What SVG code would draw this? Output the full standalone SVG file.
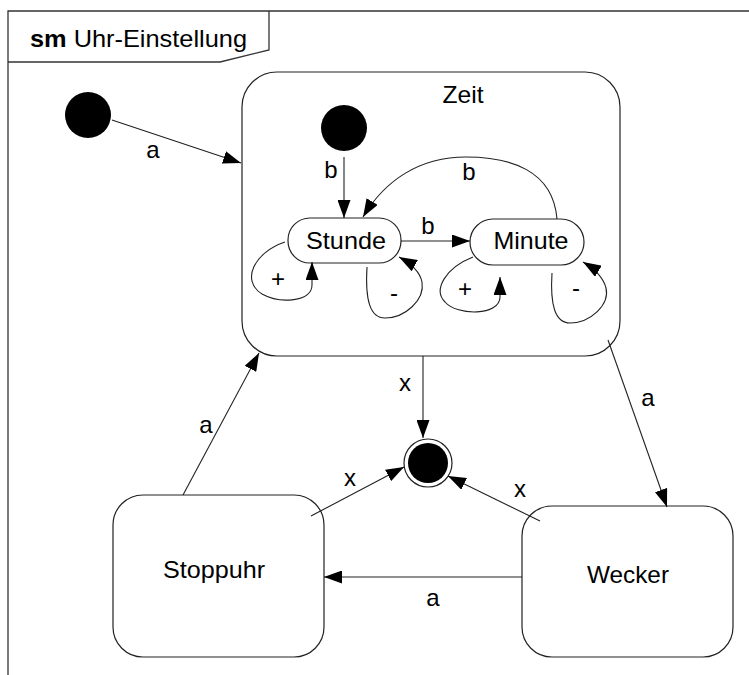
<svg xmlns="http://www.w3.org/2000/svg" width="749" height="675" viewBox="0 0 749 675">
<style>
.frame{fill:none;stroke:#333;stroke-width:1.3}
.node{fill:#fff;stroke:#222;stroke-width:1.2}
.edge{fill:none;stroke:#222;stroke-width:1.1}
text{font-family:"Liberation Sans",Arial,sans-serif;font-size:24px;fill:#000}
.c{text-anchor:middle}
.lbl{font-size:24px;text-anchor:middle}
</style>
<defs>
<marker id="ah" markerUnits="userSpaceOnUse" markerWidth="19" markerHeight="13" refX="18" refY="6.5" orient="auto">
<path d="M0,0 L18,6.5 L0,13 z" fill="#000"/>
</marker>
</defs>
<rect width="749" height="675" fill="#fff"/>
<g id="frame">
<path class="frame" d="M8 675 L8 11 L749 11"/>
<path class="frame" d="M8 62 L220 62 L269 50 L269 11"/>
<text x="30" y="47" textLength="217" lengthAdjust="spacingAndGlyphs"><tspan font-weight="bold">sm</tspan> Uhr-Einstellung</text>
</g>
<g id="init1"><circle cx="88" cy="115" r="23" fill="#000"/></g>
<g id="zeit">
<rect class="node" x="242" y="72" width="378" height="284" rx="35" ry="35"/>
<text class="c" x="463" y="103" textLength="41" lengthAdjust="spacingAndGlyphs">Zeit</text>
</g>
<g id="init2"><circle cx="344" cy="128" r="23" fill="#000"/></g>
<g id="stunde">
<rect class="node" x="288" y="218" width="113" height="45" rx="22" ry="22"/>
<text class="c" x="346" y="249" textLength="80" lengthAdjust="spacingAndGlyphs">Stunde</text>
</g>
<g id="minute">
<rect class="node" x="470" y="219" width="114" height="46" rx="23" ry="23"/>
<text class="c" x="531" y="249" textLength="75" lengthAdjust="spacingAndGlyphs">Minute</text>
</g>
<g id="final">
<circle cx="428" cy="463" r="24" fill="#fff" stroke="#222" stroke-width="1.2"/>
<circle cx="428" cy="463" r="20" fill="#000"/>
</g>
<g id="stoppuhr">
<rect class="node" x="113" y="495" width="211" height="162" rx="30" ry="30"/>
<text class="c" x="214" y="578" textLength="102" lengthAdjust="spacingAndGlyphs">Stoppuhr</text>
</g>
<g id="wecker">
<rect class="node" x="522" y="506" width="211" height="151" rx="30" ry="30"/>
<text class="c" x="628" y="583" textLength="82" lengthAdjust="spacingAndGlyphs">Wecker</text>
</g>
<g id="connectors">
<path class="edge" marker-end="url(#ah)" d="M112 120 L241 163"/>
<text class="lbl" x="153" y="158">a</text>
<path class="edge" marker-end="url(#ah)" d="M344 157 L344 218"/>
<text class="lbl" x="331" y="178">b</text>
<path class="edge" marker-end="url(#ah)" d="M401 241 L470 241"/>
<text class="lbl" x="428" y="234">b</text>
<path class="edge" marker-end="url(#ah)" d="M557 219 C553 170 510 157 466 157 C420 157 385 180 363 217"/>
<text class="lbl" x="469" y="180">b</text>
<path class="edge" marker-end="url(#ah)" d="M285 242 C255 252 240 280 262 294 C280 304 312 302 312 285 L312 262"/>
<text class="lbl" x="278" y="287">+</text>
<path class="edge" marker-end="url(#ah)" d="M367 267 C365 300 370 318 385 318 C405 318 425 300 422 282 C420 272 410 263 399 257"/>
<text class="lbl" x="394" y="301">-</text>
<path class="edge" marker-end="url(#ah)" d="M473 257 C445 268 433 290 445 302 C457 316 500 316 500 297 L500 277"/>
<text class="lbl" x="465" y="297">+</text>
<path class="edge" marker-end="url(#ah)" d="M552 273 C550 305 555 323 570 323 C590 323 610 305 606 288 C603 276 593 268 583 262"/>
<text class="lbl" x="576" y="296">-</text>
<path class="edge" marker-end="url(#ah)" d="M423 356 L423 438"/>
<text class="lbl" x="405" y="391">x</text>
<path class="edge" marker-end="url(#ah)" d="M311 516 L404 467"/>
<text class="lbl" x="350" y="486">x</text>
<path class="edge" marker-end="url(#ah)" d="M540 521 L448 476"/>
<text class="lbl" x="520" y="497">x</text>
<path class="edge" marker-end="url(#ah)" d="M522 577 L324 577"/>
<text class="lbl" x="433" y="606">a</text>
<path class="edge" marker-end="url(#ah)" d="M183 495 L259 353"/>
<text class="lbl" x="206" y="433">a</text>
<path class="edge" marker-end="url(#ah)" d="M608 340 L667 507"/>
<text class="lbl" x="648" y="406">a</text>
</g>
</svg>
